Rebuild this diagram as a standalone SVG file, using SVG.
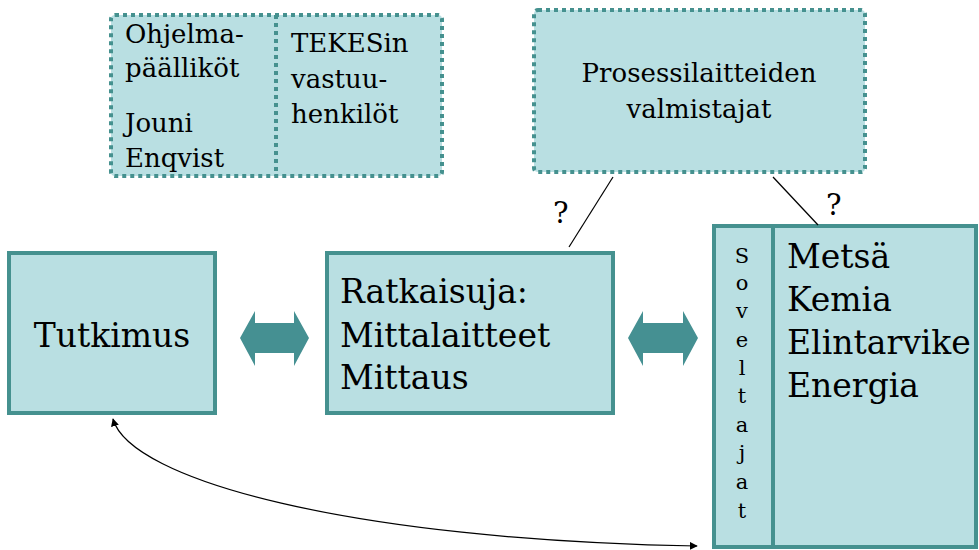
<svg xmlns="http://www.w3.org/2000/svg" width="979" height="550" viewBox="0 0 979 550">
<style>
.box{fill:#b9dfe2;stroke:#45918f;stroke-width:4}
.dot{fill:#b9dfe2;stroke:#45918f;stroke-width:4;stroke-dasharray:4 4}
.dl{fill:none;stroke:#45918f;stroke-width:4;stroke-dasharray:4 4}
.t{font-family:"DejaVu Serif","Liberation Serif",serif;fill:#000}
.s{font-size:26px}
.m{font-size:26px}
.q{font-size:29px}
.b{font-size:33px}
.v{font-size:21px;text-anchor:middle}
.c{text-anchor:middle}
.ln{fill:none;stroke:#000;stroke-width:1.2}
.dbl{fill:#459092}
</style>
<defs>
<marker id="ah" viewBox="0 0 10 10" refX="9" refY="5" markerWidth="8" markerHeight="8" markerUnits="userSpaceOnUse" orient="auto-start-reverse">
<path d="M0,0 L10,5 L0,10 z" fill="#000"/>
</marker>
</defs>

<g id="ohjelma">
<rect class="dot" x="111" y="15" width="331" height="161" rx="4"/>
<line class="dl" x1="276" y1="15" x2="276" y2="176"/>
<text class="t s" x="125" y="43">Ohjelma-</text>
<text class="t s" x="125" y="77">päälliköt</text>
<text class="t s" x="125" y="132">Jouni</text>
<text class="t s" x="125" y="167">Enqvist</text>
<text class="t s" x="291" y="52">TEKESin</text>
<text class="t s" x="291" y="88">vastuu-</text>
<text class="t s" x="291" y="123">henkilöt</text>
</g>

<g id="prosessi">
<rect class="dot" x="534" y="10" width="331" height="162" rx="4"/>
<text class="t m c" x="699" y="82">Prosessilaitteiden</text>
<text class="t m c" x="699" y="118">valmistajat</text>
</g>

<g id="tutkimus">
<rect class="box" x="9" y="253" width="206" height="160"/>
<text class="t b c" x="112" y="347">Tutkimus</text>
</g>

<g id="ratkaisuja">
<rect class="box" x="327" y="253" width="286" height="160"/>
<text class="t b" x="340" y="303">Ratkaisuja:</text>
<text class="t b" x="340" y="347">Mittalaitteet</text>
<text class="t b" x="340" y="389">Mittaus</text>
</g>

<g id="soveltajat">
<rect class="box" x="714" y="226" width="262" height="321"/>
<line x1="773" y1="226" x2="773" y2="547" stroke="#45918f" stroke-width="4"/>
<text class="t v" x="742" y="263">S</text>
<text class="t v" x="742" y="290">o</text>
<text class="t v" x="742" y="318">v</text>
<text class="t v" x="742" y="347">e</text>
<text class="t v" x="742" y="375">l</text>
<text class="t v" x="742" y="403">t</text>
<text class="t v" x="742" y="432">a</text>
<text class="t v" x="742" y="460">j</text>
<text class="t v" x="742" y="489">a</text>
<text class="t v" x="742" y="518">t</text>
<text class="t b" x="787" y="268">Metsä</text>
<text class="t b" x="787" y="311">Kemia</text>
<text class="t b" x="787" y="354">Elintarvike</text>
<text class="t b" x="787" y="397">Energia</text>
</g>

<g id="connectors">
<path class="dbl" d="M240,338 L255,311 L255,323 L294,323 L294,311 L309,338 L294,366 L294,353 L255,353 L255,366 z"/>
<path class="dbl" d="M628,338 L643,311 L643,323 L683,323 L683,311 L698,338 L683,366 L683,353 L643,353 L643,366 z"/>
<line class="ln" x1="613" y1="177" x2="569" y2="247"/>
<line class="ln" x1="773" y1="177" x2="818" y2="225"/>
<text class="t q" x="553" y="223">?</text>
<text class="t q" x="826" y="215">?</text>
<path class="ln" d="M113,419 C130,480 350,540 697,546" marker-start="url(#ah)" marker-end="url(#ah)"/>
</g>
</svg>
